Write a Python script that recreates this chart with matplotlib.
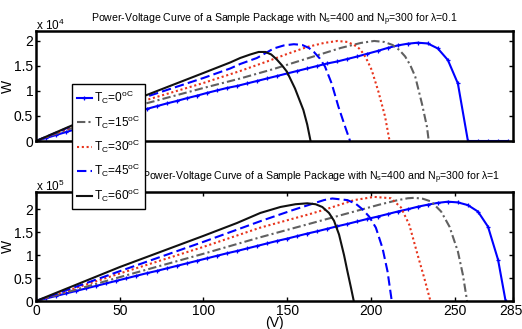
import numpy as np
import matplotlib
matplotlib.use('Agg')
import matplotlib.pyplot as plt
import matplotlib.transforms as mtransforms

plt.rcParams['font.family'] = ['Liberation Sans', 'DejaVu Sans']
plt.rcParams['mathtext.fontset'] = 'custom'
plt.rcParams['mathtext.rm'] = 'Liberation Sans'
plt.rcParams['mathtext.it'] = 'Liberation Sans'

# --- 数据 (W 单位: 上图 1e4, 下图 1e5) ---
temps = [0, 15, 30, 45, 60]

# lambda = 0.1
v_t0 = list(range(0, 283, 6))
w_t0 = [0, 0.06, 0.12, 0.18, 0.24, 0.30, 0.355, 0.415, 0.47, 0.53, 0.585, 0.64,
        0.695, 0.75, 0.80, 0.855, 0.905, 0.96, 1.01, 1.06, 1.10, 1.15, 1.20, 1.25,
        1.30, 1.35, 1.40, 1.45, 1.50, 1.55, 1.59, 1.64, 1.69, 1.745, 1.80, 1.86,
        1.91, 1.945, 1.965, 1.95, 1.85, 1.62, 1.15, 0, 0, 0, 0, 0]
v_t15 = [0, 20, 40, 60, 80, 100, 122, 142, 162, 182, 194, 202, 208, 213, 217,
         220.5, 223.5, 226.5, 230.5, 233.5, 234.6]
w_t15 = [0, 0.24, 0.48, 0.70, 0.88, 1.06, 1.25, 1.44, 1.65, 1.86, 1.96, 2.0, 1.98,
         1.92, 1.82, 1.69, 1.52, 1.29, 0.75, 0.29, 0]
v_t30 = [0, 20, 40, 60, 80, 100, 122, 138, 150, 162, 172, 180, 186, 190, 193,
         195.5, 198, 200.5, 204.5, 208.5, 211.2]
w_t30 = [0, 0.26, 0.52, 0.76, 0.96, 1.16, 1.40, 1.59, 1.74, 1.88, 1.96, 2.0, 1.98,
         1.92, 1.85, 1.75, 1.60, 1.42, 0.99, 0.49, 0]
v_t45 = [0, 20, 40, 60, 80, 100, 116, 122, 132, 142, 148, 154, 159, 163, 166,
         169.5, 172.6, 176.6, 180.6, 184.6, 187.6]
w_t45 = [0, 0.28, 0.56, 0.82, 1.04, 1.26, 1.45, 1.54, 1.66, 1.85, 1.91, 1.935,
         1.92, 1.86, 1.78, 1.65, 1.49, 1.15, 0.69, 0.29, 0]
v_t60 = [0, 20, 40, 60, 80, 100, 116, 122, 128, 133, 137, 140.5, 143.8, 147,
         149.8, 154.7, 159.7, 162, 164]
w_t60 = [0, 0.29, 0.57, 0.84, 1.10, 1.36, 1.57, 1.66, 1.73, 1.78, 1.78, 1.73,
         1.63, 1.51, 1.39, 1.05, 0.62, 0.33, 0]

# lambda = 1
v_b0 = list(range(0, 277, 6)) + [280.5]
w_b0 = [0, 0.055, 0.11, 0.165, 0.22, 0.275, 0.33, 0.385, 0.44, 0.495, 0.55, 0.605,
        0.655, 0.71, 0.765, 0.82, 0.875, 0.93, 0.985, 1.04, 1.09, 1.145, 1.20,
        1.255, 1.31, 1.36, 1.415, 1.47, 1.52, 1.575, 1.63, 1.68, 1.735, 1.79, 1.84,
        1.895, 1.95, 2.00, 2.055, 2.10, 2.14, 2.165, 2.15, 2.09, 1.95, 1.62, 0.90, 0]
v_b15 = [0, 50, 100, 134, 164, 190, 205, 215, 222, 226, 231, 236, 242, 247, 252,
         255, 257.5]
w_b15 = [0, 0.52, 1.03, 1.39, 1.69, 1.95, 2.10, 2.19, 2.24, 2.25, 2.23, 2.17,
         1.95, 1.62, 1.08, 0.57, 0]
v_b30 = [0, 50, 100, 134, 164, 174, 190, 202, 212, 218, 223, 228, 232, 235.6]
w_b30 = [0, 0.60, 1.18, 1.60, 1.90, 2.01, 2.20, 2.27, 2.24, 2.04, 1.66, 1.0, 0.49, 0]
v_b45 = [0, 50, 100, 134, 154, 166, 172, 177, 186, 191, 195, 199, 203, 207, 210,
         212.5]
w_b45 = [0, 0.65, 1.29, 1.74, 1.99, 2.13, 2.20, 2.235, 2.20, 2.12, 2.0, 1.84,
         1.60, 1.15, 0.64, 0]
v_b60 = [0, 25, 50, 75, 100, 120, 134, 146, 155, 162, 167, 171, 175, 178, 181,
         184, 186, 188.2, 189.8]
w_b60 = [0, 0.37, 0.74, 1.08, 1.42, 1.70, 1.92, 2.05, 2.11, 2.13, 2.11, 2.05,
         1.92, 1.75, 1.45, 1.0, 0.65, 0.28, 0]

top_series = [(v_t0, w_t0), (v_t15, w_t15), (v_t30, w_t30), (v_t45, w_t45), (v_t60, w_t60)]
bot_series = [(v_b0, w_b0), (v_b15, w_b15), (v_b30, w_b30), (v_b45, w_b45), (v_b60, w_b60)]

styles = [
    dict(color='#0000ff', ls='-', marker='+', ms=3.5, mew=0.9),
    dict(color='#606060', ls=(0, (4, 1.5, 1, 1.5))),
    dict(color='#e8341c', ls=(0, (1, 1.3))),
    dict(color='#0000ff', ls=(0, (4.5, 2))),
    dict(color='#111111', ls='-'),
]


def style_axes(ax, ymax, show_x):
    ax.set_xlim(0, 285)
    ax.set_ylim(0, ymax)
    ax.set_yticks([0, 0.5, 1, 1.5, 2])
    ax.set_yticklabels(['0', '0.5', '1', '1.5', '2'])
    for s in ax.spines.values():
        s.set_linewidth(1.8)
    ax.tick_params(direction='in', length=3, width=1, labelsize=10, pad=2,
                   right=True, top=show_x)
    if show_x:
        ax.set_xticks([0, 50, 100, 150, 200, 250, 285])
        ax.set_xticklabels(['0', '50', '100', '150', '200', '250', '285'])
    else:
        ax.set_xticks([])
    ax.set_ylabel('W', fontsize=10)
    ax.yaxis.set_label_coords(-0.044, 0.5)


fig = plt.figure(figsize=(5.22, 3.29), dpi=100)
ax1 = fig.add_axes([0.069, 0.5714, 0.914, 0.333])
ax2 = fig.add_axes([0.069, 0.0851, 0.914, 0.3304])

handles = []
for (v, w), st in zip(top_series, styles):
    h, = ax1.plot(v, w, lw=1.5, **st)
    handles.append(h)
for (v, w), st in zip(bot_series, styles):
    ax2.plot(v, w, lw=1.5, **st)

style_axes(ax1, 2.19, False)
style_axes(ax2, 2.37, True)

# 最后一个刻度标签 "285" 稍微左移, 避免贴边被裁
last = ax2.get_xticklabels()[-1]
last.set_transform(last.get_transform() + mtransforms.ScaledTranslation(-2 / 100, 0, fig.dpi_scale_trans))

ax1.set_title(r'Power-Voltage Curve of a Sample Package with N$_s$=400 and N$_p$=300 for $\lambda$=0.1',
              fontsize=7.6, pad=7)
ax2.text(0.597, 1.06, r'Power-Voltage Curve of a Sample Package with N$_s$=400 and N$_p$=300 for $\lambda$=1',
         transform=ax2.transAxes, fontsize=7.6, ha='center', va='bottom')
ax2.set_xlabel('(V)', fontsize=10, labelpad=-1)

ax1.text(0, 1.01, r'x 10$^4$', transform=ax1.transAxes, fontsize=8.5, va='baseline', ha='left')
ax2.text(0, 1.01, r'x 10$^5$', transform=ax2.transAxes, fontsize=8.5, va='baseline', ha='left')

labels = [r'T$_C$=%d$^{oC}$' % t for t in temps]
leg = fig.legend(handles, labels, loc='upper left', bbox_to_anchor=(72 / 522, 1 - 84 / 329),
                 fontsize=8.6, frameon=True, fancybox=False, framealpha=1,
                 edgecolor='black', handlelength=1.25, handletextpad=0.15,
                 labelspacing=0.6, borderpad=0.4, borderaxespad=0)
leg.get_frame().set_linewidth(1.0)

fig.savefig('out.png', dpi=100)
